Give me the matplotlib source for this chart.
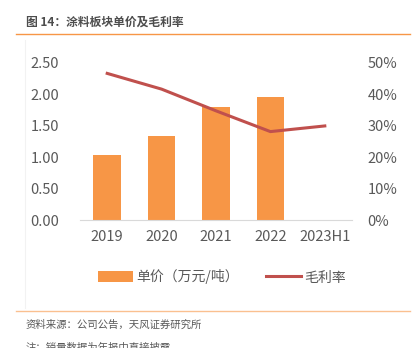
import matplotlib
matplotlib.use('Agg')
import matplotlib.pyplot as plt
from matplotlib.lines import Line2D
import numpy as np

plt.rcParams['font.family'] = ['Noto Sans CJK SC', 'DejaVu Sans']

# data
years = ['2019', '2020', '2021', '2022', '2023H1']
price = [1.03, 1.34, 1.79, 1.96, np.nan]          # 单价（万元/吨）
margin = [46.6, 41.6, 34.7, 28.1, 29.9]           # 毛利率 %
left_ticks = [0, 0.5, 1.0, 1.5, 2.0, 2.5]
right_ticks = [0, 10, 20, 30, 40, 50]

orange = '#F79646'
red = '#C0504D'
grey = '#595959'

fig = plt.figure(figsize=(4.15, 3.48), dpi=100)
ax = fig.add_axes([80/415, 1-220/348, 272/415, 157.3/348])
ax2 = ax.twinx()

x = np.arange(len(years))
bars = ax.bar(x, price, width=0.51, color=orange, zorder=2)
line, = ax2.plot(x, margin, color=red, lw=2.2, zorder=3)

ax.set_xlim(-0.5, len(years)-0.5)
ax.set_ylim(0, 2.5)
ax2.set_ylim(0, 50)
ax.set_yticks(left_ticks)
ax.set_yticklabels(['%.2f' % t for t in left_ticks])
ax2.set_yticks(right_ticks)
ax2.set_yticklabels(['%d%%' % t for t in right_ticks])
ax.set_xticks(x)
ax.set_xticklabels(years)

for a in (ax, ax2):
    for s in a.spines.values():
        s.set_visible(False)
    a.tick_params(length=0, labelsize=10.5, colors=grey)
ax.spines['bottom'].set_visible(True)
ax.spines['bottom'].set_color('#D9D9D9')
ax.tick_params(axis='y', pad=15)
ax.tick_params(axis='x', pad=7)
ax2.tick_params(axis='y', pad=11)
ax2.set_zorder(ax.get_zorder()+1)
ax2.patch.set_visible(False)

fig.legend([bars, line], ['单价（万元/吨）', '毛利率'], loc='center',
           bbox_to_anchor=(222/415, 1-277/348), ncol=2, frameon=False,
           fontsize=10, handlelength=2.5, handleheight=0.8, handletextpad=0.25,
           columnspacing=2.0, labelcolor=grey)

# header, rules and notes
fig.text(26/415, 1-22/348, '图 14：涂料板块单价及毛利率', fontsize=8.5,
         fontweight='bold', color='#4D4D4D', va='center', ha='left')
fig.add_artist(Line2D([16/415, 410/415], [1-34/348, 1-34/348], color=orange, lw=1))
fig.add_artist(Line2D([16/415, 410/415], [1-311/348, 1-311/348], color='#FAC090', lw=1))
fig.add_artist(Line2D([25/415, 25/415], [1-40/348, 1-308/348], color='#F2F2F2', lw=0.8))
fig.text(26/415, 1-325/348, '资料来源：公司公告，天风证券研究所', fontsize=7.5,
         color=grey, va='center', ha='left')
fig.text(26/415, 1-342/348, '注：销量数据为年报中直接披露', fontsize=7.5,
         color=grey, va='top', ha='left')

fig.savefig('out.png', dpi=100)
